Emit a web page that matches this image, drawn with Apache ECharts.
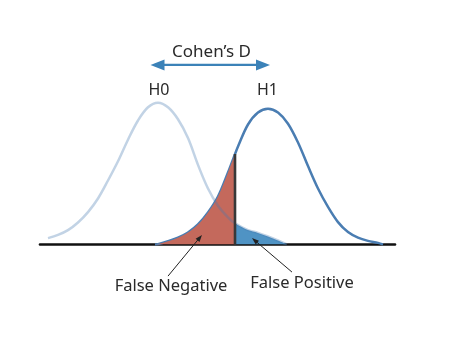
<!DOCTYPE html>
<html><head><meta charset="utf-8">
<script src="https://cdn.jsdelivr.net/npm/echarts@6/dist/echarts.min.js"></script>
<style>html,body{margin:0;padding:0;background:#fff}#c{width:450px;height:338px}</style>
</head><body><div id="c"></div>
<script>
// H0 distribution (x in effect-size units, y density)
const h0X = [-2.2,-2.0,-1.8,-1.6,-1.4,-1.2,-1.0,-0.8,-0.6,-0.4,-0.2,0,0.2,0.4,0.6,0.8,1.0,1.2,1.4,1.54,1.8,2.0,2.2,2.4,2.58];
const h0Y = [0.016,0.024,0.036,0.055,0.081,0.115,0.16,0.208,0.262,0.31,0.343,0.3545,0.343,0.313,0.266,0.199,0.14,0.097,0.068,0.053,0.036,0.029,0.02,0.01,0];
// H1 distribution
const h1X = [-0.06,0,0.2,0.4,0.6,0.8,1.0,1.2,1.4,1.54,1.6,1.8,2.0,2.2,2.4,2.6,2.8,3.0,3.2,3.4,3.6,3.8,4.0,4.2,4.4,4.5];
const h1Y = [0,0.001,0.008,0.017,0.03,0.05,0.08,0.12,0.18,0.226,0.245,0.3,0.33,0.3395,0.33,0.302,0.255,0.196,0.14,0.094,0.056,0.031,0.017,0.009,0.004,0];
// decision threshold
const threshold = 1.54;
// labels
const titleLabel = "Cohen’s D";
const h0Label = "H0";
const h1Label = "H1";
const fnLabel = "False Negative";
const fpLabel = "False Positive";
// annotation anchors (data units)
const cohenFrom = [-0.15, 0.449], cohenTo = [2.24, 0.449], cohenText = [1.07, 0.482];
const h0TextPos = [0.02, 0.384], h1TextPos = [2.19, 0.384];
const fnText = [0.26, -0.104], fnTail = [0.2, -0.079], fnTip = [0.88, 0.024];
const fpText = [2.88, -0.098], fpTail = [2.68, -0.069], fpTip = [1.88, 0.016];

const zip = (xs, ys) => xs.map((x, i) => [x, ys[i]]);
const h0 = zip(h0X, h0Y), h1 = zip(h1X, h1Y);
const red = h1.filter(p => p[0] <= threshold);
const blue = h0.filter(p => p[0] >= threshold);
const thrTop = h1.find(p => p[0] === threshold)[1];

const chart = echarts.init(document.getElementById('c'), null, {renderer: 'canvas'});
const sm = 0.35;
chart.setOption({
  animation: false,
  backgroundColor: '#fff',
  grid: {left: 40, right: 55, top: 44.5, bottom: 93.5},
  xAxis: {type: 'value', min: -2.36, max: 4.74, axisLine: {show: true, onZero: true, lineStyle: {color: '#111', width: 2.6}},
    axisTick: {show: false}, axisLabel: {show: false}, splitLine: {show: false}},
  yAxis: {type: 'value', min: 0, max: 0.5, show: false},
  series: [
    {type: 'line', data: h1, smooth: sm, showSymbol: false, z: 2, lineStyle: {color: '#4a7db2', width: 2.5}},
    {type: 'line', data: red, smooth: sm, showSymbol: false, z: 3, lineStyle: {width: 0}, areaStyle: {color: '#c4695c', opacity: 1}},
    {type: 'line', data: blue, smooth: sm, showSymbol: false, z: 3, lineStyle: {width: 0}, areaStyle: {color: '#4f93c4', opacity: 1}},
    {type: 'line', data: h0, smooth: sm, showSymbol: false, z: 4, lineStyle: {color: 'rgba(70,120,175,0.33)', width: 2.5}},
    {type: 'line', data: [[threshold, 0], [threshold, thrTop]], showSymbol: false, z: 5, lineStyle: {color: '#383838', width: 2.6}}
  ]
});

const px = p => chart.convertToPixel({gridIndex: 0}, p);
function head(tip, from, len, w) {
  const dx = tip[0] - from[0], dy = tip[1] - from[1], d = Math.hypot(dx, dy);
  const ux = dx / d, uy = dy / d, bx = tip[0] - ux * len, by = tip[1] - uy * len;
  return [tip, [bx - uy * w / 2, by + ux * w / 2], [bx + uy * w / 2, by - ux * w / 2]];
}
function arrowEls(from, to, color, lw, len, w, both) {
  const a = px(from), b = px(to);
  const els = [];
  const dx = b[0] - a[0], dy = b[1] - a[1], d = Math.hypot(dx, dy), ux = dx / d, uy = dy / d;
  const s = both ? [a[0] + ux * len * 0.8, a[1] + uy * len * 0.8] : a;
  const e = [b[0] - ux * len * 0.8, b[1] - uy * len * 0.8];
  els.push({type: 'line', shape: {x1: s[0], y1: s[1], x2: e[0], y2: e[1]}, style: {stroke: color, lineWidth: lw}, z: 10});
  els.push({type: 'polygon', shape: {points: head(b, a, len, w)}, style: {fill: color}, z: 10});
  if (both) els.push({type: 'polygon', shape: {points: head(a, b, len, w)}, style: {fill: color}, z: 10});
  return els;
}
function text(t, p, size) {
  const q = px(p);
  return {type: 'text', x: q[0], y: q[1], z: 10, style: {text: t, fontSize: size, fontFamily: 'Noto Sans', fill: '#2a2a2a', align: 'center', verticalAlign: 'middle'}};
}
chart.setOption({graphic: [].concat(
  arrowEls(cohenFrom, cohenTo, '#3b82b8', 2.4, 14, 11, true),
  arrowEls(fnTail, fnTip, '#222', 1, 7, 5, false),
  arrowEls(fpTail, fpTip, '#222', 1, 7, 5, false),
  [text(titleLabel, cohenText, 17), text(h0Label, h0TextPos, 16), text(h1Label, h1TextPos, 16),
   text(fnLabel, fnText, 16.5), text(fpLabel, fpText, 16.5)]
)});
</script></body></html>
